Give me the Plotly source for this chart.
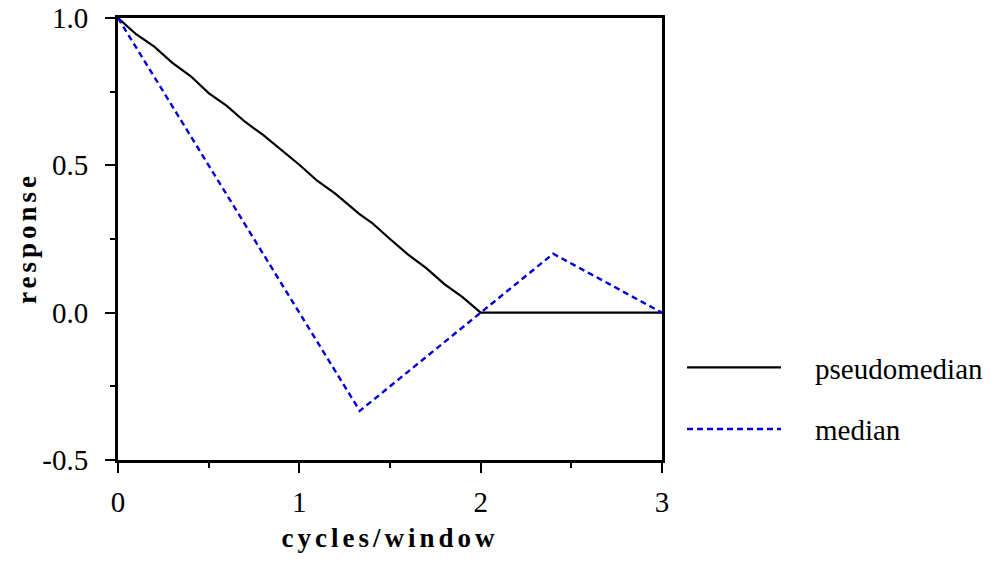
import plotly.graph_objects as go

# Data
pm_x = [0, 0.1, 0.2, 0.3, 0.4, 0.5, 0.6, 0.7, 0.8, 0.9, 1.0, 1.1, 1.2, 1.33, 1.4,
        1.5, 1.6, 1.7, 1.8, 1.9, 2.0, 3.0]
pm_y = [1.0, 0.945, 0.903, 0.848, 0.803, 0.745, 0.702, 0.648, 0.603, 0.553, 0.502,
        0.447, 0.403, 0.335, 0.305, 0.25, 0.197, 0.151, 0.097, 0.053, 0.0, 0.0]
med_x = [0, 4/3, 2.0, 2.4, 3.0]
med_y = [1.0, -1/3, 0.0, 0.2, 0.0]

x_ticks = [0, 1, 2, 3]
y_ticks = [-0.5, 0.0, 0.5, 1.0]
y_tick_text = ["-0.5", "0.0", "0.5", "1.0"]
series_names = ["pseudomedian", "median"]
x_title = "cycles/window"
y_title = "response"

FONT = "Liberation Serif"
PAD = "\u2003"

fig = go.Figure()
fig.add_trace(go.Scatter(x=pm_x, y=pm_y, mode="lines", name=PAD + series_names[0],
                         line=dict(color="black", width=2.2), legendgroup="a"))
fig.add_trace(go.Scatter(x=med_x, y=med_y, mode="lines", name=PAD + series_names[1],
                         line=dict(color="#0000DD", width=2.4, dash="6px,4px"),
                         legendgroup="b"))

axis_common = dict(showgrid=False, zeroline=False, showline=True, linecolor="black",
                   linewidth=3, mirror=True, ticks="outside", ticklen=10, tickwidth=2,
                   tickcolor="black", automargin=True,
                   tickfont=dict(family=FONT, size=29, color="black"))

fig.update_xaxes(range=[0, 3], tickvals=x_ticks, ticklabelstandoff=4,
                 minor=dict(ticks="outside", ticklen=5, tickwidth=2, tickcolor="black", dtick=0.5),
                 title=dict(text=f"<b><span style='letter-spacing:4px'>{x_title}</span></b>",
                            font=dict(family=FONT, size=27, color="black"), standoff=12),
                 **axis_common)
fig.update_yaxes(range=[-0.5, 1.0], tickvals=y_ticks, ticktext=y_tick_text, ticklabelstandoff=11,
                 minor=dict(ticks="outside", ticklen=5, tickwidth=2, tickcolor="black", dtick=0.25),
                 **axis_common)

fig.add_annotation(text=f"<b><span style='letter-spacing:4px'>{y_title}</span></b>",
                   xref="paper", yref="paper", x=(27 - 118) / 544, y=(460 - 238) / 442,
                   xanchor="center", yanchor="middle", textangle=-90, showarrow=False,
                   font=dict(family=FONT, size=27, color="black"))

fig.update_layout(
    width=1001, height=562,
    margin=dict(l=118, r=339, t=18, b=102, autoexpand=False),
    paper_bgcolor="white", plot_bgcolor="white",
    showlegend=True,
    legend=dict(x=(682 - 118) / 544, y=(460 - 342) / 442, xanchor="left", yanchor="top",
                font=dict(family=FONT, size=29, color="black"),
                itemwidth=94, tracegroupgap=21, bgcolor="rgba(0,0,0,0)"),
)

fig.write_html("out.html")
